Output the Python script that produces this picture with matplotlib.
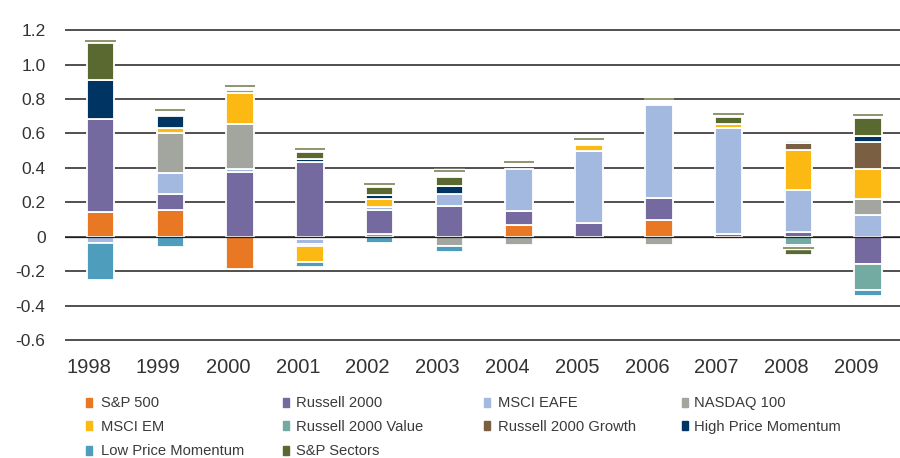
import numpy as np
import matplotlib.pyplot as plt
from matplotlib.patches import Rectangle
from matplotlib.transforms import ScaledTranslation

plt.rcParams['font.family'] = ['Liberation Sans', 'DejaVu Sans']

years = ['1998', '1999', '2000', '2001', '2002', '2003',
         '2004', '2005', '2006', '2007', '2008', '2009']

# contribution of each strategy per year
sp500    = [0.145, 0.153, -0.186, -0.012, 0.015, 0.0,   0.07,  0.0,    0.095, -0.015, 0.0,    0.0]
r2000    = [0.538, 0.096, 0.373,  0.431,  0.138, 0.179, 0.08,  0.08,   0.13,  0.015,  0.03,   -0.158]
eafe     = [-0.037, 0.122, 0.021, -0.029, 0.018, 0.07,  0.244, 0.419,  0.542, 0.615,  0.243,  0.127]
nasdaq   = [0.0,   0.233, 0.262,  -0.015, 0.0,   -0.056, -0.047, 0.0,  -0.047, 0.0,   0.0,    0.092]
msci_em  = [0.0,   0.027, 0.179,  -0.09,  0.05,  0.0,   0.0,   0.031,  0.0,   0.027,  0.228,  0.177]
r2000v   = [0.0,   0.0,   0.018,  0.0,    0.0,   0.0,   0.0,   -0.012, 0.0,   0.0,    -0.05,  -0.154]
r2000g   = [0.0,   0.0,   0.0,    0.0,    0.0,   0.0,   0.0,   0.0,    0.0,   0.0,    0.041,  0.156]
hpm      = [0.227, 0.07,  0.0,    0.02,   0.022, 0.045, 0.0,   0.0,    0.0,   0.0,    0.0,    0.031]
lpm      = [-0.215, -0.058, 0.0,  -0.027, -0.035, -0.035, 0.0, 0.0,    0.0,   0.0,    0.014,  -0.033]
sectors  = [0.216, 0.0,   0.0,    0.04,   0.045, 0.055, 0.0,   0.0,    0.0,   0.041,  -0.055, 0.107]

# thin olive marker drawn on each bar
cap = [1.138, 0.733, 0.874, 0.509, 0.309, 0.381, 0.435, 0.569, 0.798, 0.713, -0.063, 0.705]

names = ['S&P 500', 'Russell 2000', 'MSCI EAFE', 'NASDAQ 100', 'MSCI EM',
         'Russell 2000 Value', 'Russell 2000 Growth', 'High Price Momentum',
         'Low Price Momentum', 'S&P Sectors']
values = [sp500, r2000, eafe, nasdaq, msci_em, r2000v, r2000g, hpm, lpm, sectors]
colors = ['#e97824', '#746aa0', '#a4b9e0', '#a2a69e', '#fcb914',
          '#73aaa2', '#7b5f43', '#003462', '#4f9dbd', '#5a692f']

fig = plt.figure(figsize=(9, 4.58), dpi=100)
ax = fig.add_axes([65 / 900, 117.1 / 458, 835 / 900, 311.7 / 458])

x = np.arange(len(years))
width = 0.395
pos = np.zeros(len(years))
neg = np.zeros(len(years))
for vals, color in zip(values, colors):
    v = np.array(vals)
    bottom = np.where(v >= 0, pos, neg)
    keep = v != 0
    ax.bar(x[keep], v[keep], width, bottom=bottom[keep], color=color,
           edgecolor='white', linewidth=1.3, zorder=2)
    pos += np.clip(v, 0, None)
    neg += np.clip(v, None, 0)

# cap lines
ax.hlines(cap, x - width / 2 - 0.02, x + width / 2 + 0.02, color='white', lw=3.2, zorder=3)
ax.hlines(cap, x - width / 2 - 0.02, x + width / 2 + 0.02, color='#7b8355', lw=1.2, zorder=4)

ax.axhline(0, color='#231f20', lw=0.9, zorder=3.5)

ax.set_xlim(-0.5086, 11.455)
ax.set_ylim(-0.605, 1.205)
yt = [1.2, 1.0, 0.8, 0.6, 0.4, 0.2, 0, -0.2, -0.4, -0.6]
ax.set_yticks(yt)
ax.set_yticklabels(['0' if t == 0 else f'{t:.1f}' for t in yt])
ax.yaxis.grid(True, color='#231f20', lw=1.1)
ax.set_axisbelow(True)
for s in ax.spines.values():
    s.set_visible(False)

ax.set_xticks(x)
ax.set_xticklabels(years)
ax.tick_params(axis='y', length=0, pad=14, labelsize=12.5, labelcolor='#333333')
ax.tick_params(axis='x', length=0, pad=12, labelsize=14.5, labelcolor='#333333')
shift = ScaledTranslation(-12 / 100, 0, fig.dpi_scale_trans)
for lab in ax.get_xticklabels():
    lab.set_transform(lab.get_transform() + shift)

# legend laid out as in the report
mark_x = [86, 283, 484, 682]
text_x = [101, 296, 498, 694]
row_y = [402, 425.5, 450]
for i, (name, color) in enumerate(zip(names, colors)):
    r, c = divmod(i, 4)
    y = 1 - row_y[r] / 458
    fig.patches.append(Rectangle((mark_x[c] / 900, y - 4.5 / 458), 6 / 900, 9 / 458,
                                 transform=fig.transFigure, color=color))
    fig.text(text_x[c] / 900, y - 5.3 / 458, name, fontsize=10.6, color='#3a3a3a',
             va='baseline', ha='left')

fig.savefig('out.png', dpi=100)
